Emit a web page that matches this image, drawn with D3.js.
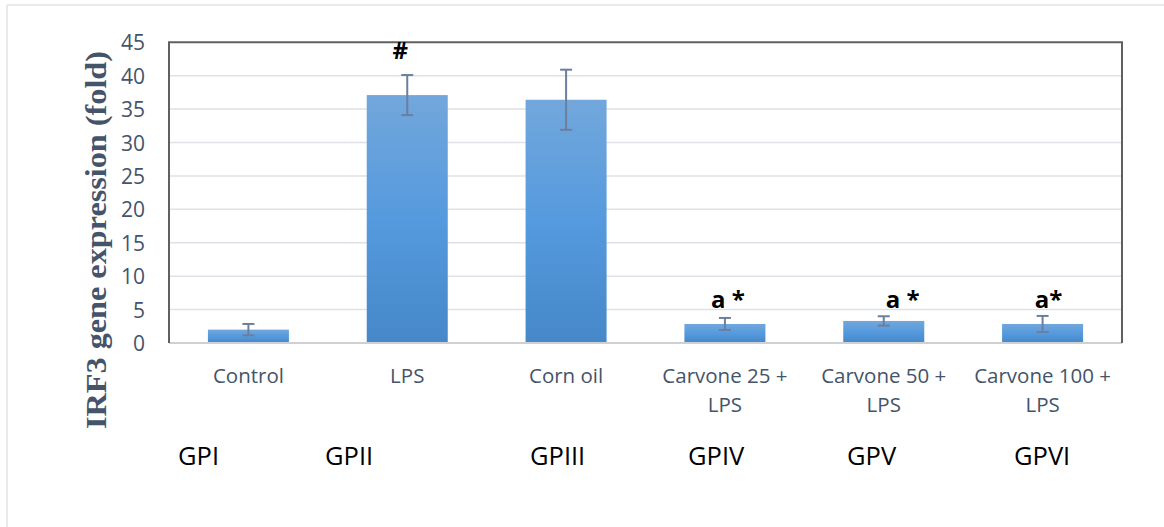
<!DOCTYPE html>
<html>
<head>
<meta charset="utf-8">
<script src="https://cdn.jsdelivr.net/npm/d3@7"></script>
<style>
  html, body { margin: 0; padding: 0; background: #fff; }
  svg { display: block; }
</style>
</head>
<body>
<svg id="chart" width="1164" height="527"></svg>
<script>
// ---- data ----
const categories = ["Control", "LPS", "Corn oil", "Carvone 25 + LPS", "Carvone 50 + LPS", "Carvone 100 + LPS"];
const categoryLines = [["Control"], ["LPS"], ["Corn oil"], ["Carvone 25 +", "LPS"], ["Carvone 50 +", "LPS"], ["Carvone 100 +", "LPS"]];
const values = [2.0, 37.1, 36.4, 2.85, 3.3, 2.85];
const errors = [0.85, 3.0, 4.5, 0.9, 0.7, 1.2];
const annotations = ["", "#", "", "a *", "a *", "a*"];
const groupLabels = ["GPI", "GPII", "GPIII", "GPIV", "GPV", "GPVI"];
const yTicks = [0, 5, 10, 15, 20, 25, 30, 35, 40, 45];
const yTitle = "IRF3 gene expression (fold)";

// ---- layout ----
const W = 1164, H = 527;
const plot = { left: 169, right: 1122, top: 42.3, bottom: 343 };
const annotOffsetX = [0, -7, 0, 3, 19, 6];
const groupLabelX = [178, 325, 530, 688, 847, 1014];
const textColor = "#44546a";

const svg = d3.select("#chart");

// outer frame (left + top)
svg.append("line").attr("x1", 7).attr("x2", 7).attr("y1", 5).attr("y2", H)
  .attr("stroke", "#e2e3e8").attr("stroke-width", 1.5);
svg.append("line").attr("x1", 7).attr("x2", W).attr("y1", 5).attr("y2", 5)
  .attr("stroke", "#e2e3e8").attr("stroke-width", 1.5);

const x = d3.scaleBand().domain(categories).range([plot.left, plot.right])
  .paddingInner(0.49).paddingOuter(0.245);
const y = d3.scaleLinear().domain([0, 45]).range([plot.bottom, plot.top]);

// gradient
const defs = svg.append("defs");
const grad = defs.append("linearGradient").attr("id", "barGrad")
  .attr("x1", 0).attr("y1", 0).attr("x2", 0).attr("y2", 1);
grad.append("stop").attr("offset", "0%").attr("stop-color", "#72a7db");
grad.append("stop").attr("offset", "50%").attr("stop-color", "#559ade");
grad.append("stop").attr("offset", "100%").attr("stop-color", "#4688c8");

// gridlines
svg.append("g")
  .selectAll("line").data(yTicks.filter(t => t > 0 && t < 45)).join("line")
  .attr("x1", plot.left).attr("x2", plot.right)
  .attr("y1", d => y(d)).attr("y2", d => y(d))
  .attr("stroke", "#dfe1e6").attr("stroke-width", 1.5);

// y axis tick labels
const yAxis = d3.axisLeft(y).tickValues(yTicks).tickSize(0).tickPadding(0);
const yg = svg.append("g").attr("transform", `translate(145,0)`).call(yAxis);
yg.select(".domain").remove();
yg.selectAll("text")
  .attr("font-family", "'Open Sans', sans-serif")
  .attr("font-size", 21)
  .attr("fill", textColor)
  .attr("dy", "0.36em");

// bars
svg.append("g").selectAll("rect").data(categories).join("rect")
  .attr("x", d => x(d))
  .attr("width", x.bandwidth())
  .attr("y", (d, i) => y(values[i]))
  .attr("height", (d, i) => y(0) - y(values[i]))
  .attr("fill", "url(#barGrad)");

// error bars
const eg = svg.append("g").attr("stroke", "#6b7f9e").attr("stroke-width", 2);
categories.forEach((c, i) => {
  const cx = x(c) + x.bandwidth() / 2;
  const hi = y(values[i] + errors[i]), lo = y(values[i] - errors[i]);
  eg.append("line").attr("x1", cx).attr("x2", cx).attr("y1", hi).attr("y2", lo);
  eg.append("line").attr("x1", cx - 6).attr("x2", cx + 6).attr("y1", hi).attr("y2", hi);
  eg.append("line").attr("x1", cx - 6).attr("x2", cx + 6).attr("y1", lo).attr("y2", lo);
});

// plot frame
svg.append("line").attr("x1", plot.left).attr("x2", plot.right)
  .attr("y1", plot.bottom).attr("y2", plot.bottom)
  .attr("stroke", "#cfd0d4").attr("stroke-width", 2);
svg.append("path")
  .attr("d", `M${plot.left},${plot.bottom}V${plot.top}H${plot.right}V${plot.bottom}`)
  .attr("fill", "none").attr("stroke", "#606060").attr("stroke-width", 2);

// annotations
svg.append("g").selectAll("text").data(categories).join("text")
  .attr("x", (d, i) => x(d) + x.bandwidth() / 2 + annotOffsetX[i])
  .attr("y", (d, i) => i === 1 ? 59 : 308)
  .attr("text-anchor", "middle")
  .attr("font-family", "'Open Sans', sans-serif")
  .attr("font-weight", "bold")
  .attr("font-size", 24)
  .attr("fill", "#000")
  .text((d, i) => annotations[i]);

// category labels
const cl = svg.append("g");
categories.forEach((c, i) => {
  categoryLines[i].forEach((line, j) => {
    cl.append("text")
      .attr("x", x(c) + x.bandwidth() / 2)
      .attr("y", 383 + j * 28.5)
      .attr("text-anchor", "middle")
      .attr("font-family", "'Open Sans', sans-serif")
      .attr("font-size", 20.5)
      .attr("fill", textColor)
      .text(line);
  });
});

// group labels
svg.append("g").selectAll("text").data(groupLabels).join("text")
  .attr("x", (d, i) => groupLabelX[i])
  .attr("y", 465)
  .attr("font-family", "'Open Sans', sans-serif")
  .attr("font-size", 25.5)
  .attr("fill", "#000")
  .text(d => d);

// y title
svg.append("text")
  .attr("transform", "translate(106,240) rotate(-90)")
  .attr("text-anchor", "middle")
  .attr("font-family", "'Liberation Serif', 'Times New Roman', serif")
  .attr("font-weight", "bold")
  .attr("font-size", 30)
  .attr("fill", textColor)
  .attr("textLength", 378)
  .attr("lengthAdjust", "spacingAndGlyphs")
  .text(yTitle);
</script>
</body>
</html>
